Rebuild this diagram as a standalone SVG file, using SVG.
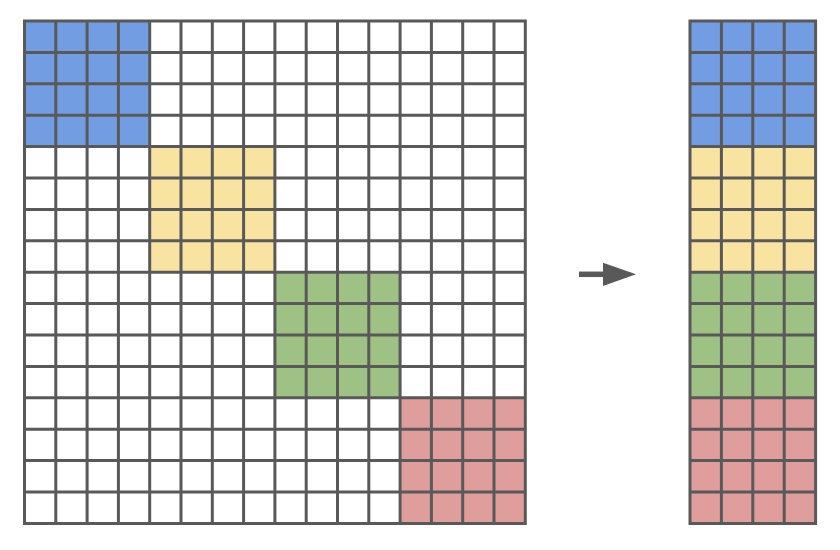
<svg xmlns="http://www.w3.org/2000/svg" width="840" height="550" viewBox="0 0 840 550">
<style>
.blue{fill:#739de2}
.yellow{fill:#f9e3a0}
.green{fill:#9dc283}
.red{fill:#df9d9c}
.grid{fill:none;stroke:#595959;stroke-width:3;stroke-linecap:square}
</style>
<rect width="840" height="550" fill="#ffffff"/>
<g id="matrix">
<rect x="24.5" y="21" width="500.8" height="502.4" fill="#ffffff"/>
<rect id="block-blue" class="blue" x="24.5" y="21" width="125.2" height="125.6"/>
<rect id="block-yellow" class="yellow" x="149.7" y="146.6" width="125.2" height="125.6"/>
<rect id="block-green" class="green" x="274.9" y="272.2" width="125.2" height="125.6"/>
<rect id="block-red" class="red" x="400.1" y="397.8" width="125.2" height="125.6"/>
<path class="grid" d="M24.5 21V523.4M55.8 21V523.4M87.1 21V523.4M118.4 21V523.4M149.7 21V523.4M181 21V523.4M212.3 21V523.4M243.6 21V523.4M274.9 21V523.4M306.2 21V523.4M337.5 21V523.4M368.8 21V523.4M400.1 21V523.4M431.4 21V523.4M462.7 21V523.4M494 21V523.4M525.3 21V523.4
M24.5 21H525.3M24.5 52.4H525.3M24.5 83.8H525.3M24.5 115.2H525.3M24.5 146.6H525.3M24.5 178H525.3M24.5 209.4H525.3M24.5 240.8H525.3M24.5 272.2H525.3M24.5 303.6H525.3M24.5 335H525.3M24.5 366.4H525.3M24.5 397.8H525.3M24.5 429.2H525.3M24.5 460.6H525.3M24.5 492H525.3M24.5 523.4H525.3"/>
</g>
<g id="connectors">
<line x1="579" y1="274.3" x2="605" y2="274.3" stroke="#595959" stroke-width="5.5"/>
<polygon points="603,262.7 636,274.3 603,286" fill="#595959"/>
</g>
<g id="stacked">
<rect class="blue" x="690" y="21" width="125.6" height="125.6"/>
<rect class="yellow" x="690" y="146.6" width="125.6" height="125.6"/>
<rect class="green" x="690" y="272.2" width="125.6" height="125.6"/>
<rect class="red" x="690" y="397.8" width="125.6" height="125.6"/>
<path class="grid" d="M690 21V523.4M721.4 21V523.4M752.8 21V523.4M784.2 21V523.4M815.6 21V523.4
M690 21H815.6M690 52.4H815.6M690 83.8H815.6M690 115.2H815.6M690 146.6H815.6M690 178H815.6M690 209.4H815.6M690 240.8H815.6M690 272.2H815.6M690 303.6H815.6M690 335H815.6M690 366.4H815.6M690 397.8H815.6M690 429.2H815.6M690 460.6H815.6M690 492H815.6M690 523.4H815.6"/>
</g>
</svg>
